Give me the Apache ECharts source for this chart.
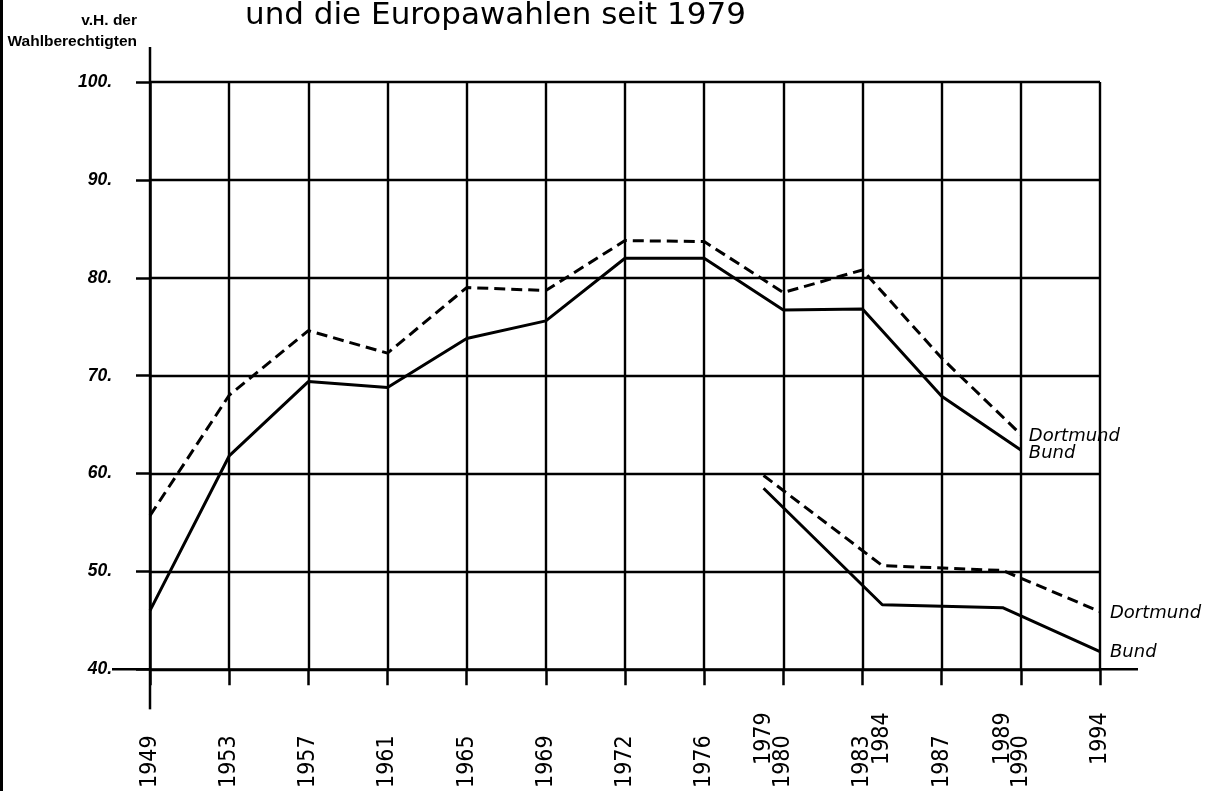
<!DOCTYPE html>
<html>
<head>
<meta charset="utf-8">
<script src="https://cdn.jsdelivr.net/npm/echarts@6/dist/echarts.min.js"></script>
<style>
html,body{margin:0;padding:0;background:#fff}
#chart{width:1211px;height:791px}
</style>
</head>
<body>
<div id="chart"></div>
<script>
// Bundestagswahlen (one slot per vertical grid line)
const bundestagYears = ['1949','1953','1957','1961','1965','1969','1972','1976','1980','1983','1987','1990'];
const bundestagBund = [46.0, 61.8, 69.4, 68.8, 73.8, 75.6, 82.0, 82.0, 76.7, 76.8, 67.9, 62.4];
const bundestagDortmund = [55.7, 68.0, 74.6, 72.3, 79.0, 78.7, 83.8, 83.7, 78.5, 80.8, 71.8, 64.0];
// Europawahlen (slot position on the shared year axis, as drawn)
const europaYears = ['1979','1984','1989','1994'];
const europaSlot = [7.75, 9.25, 10.77, 12];
const europaBund = [58.5, 46.6, 46.3, 41.8];
const europaDortmund = [59.8, 50.6, 50.1, 45.9];
// value axis ticks
const yMin = 40, yMax = 100, yStep = 10;

const black = '#000';
const yearFont = "'DejaVu Sans Condensed', 'Liberation Sans Narrow', sans-serif";

const chart = echarts.init(document.getElementById('chart'), null, {renderer: 'canvas'});

function endLabel(text, dist, off) {
  return {
    show: true, formatter: text, distance: dist, offset: off,
    fontStyle: 'italic', fontSize: 18, fontFamily: 'DejaVu Sans', color: black
  };
}

const option = {
  animation: false,
  backgroundColor: '#fff',
  title: {
    text: 'und die Europawahlen seit 1979',
    left: 245, top: 0, padding: 0,
    textStyle: {fontFamily: 'DejaVu Sans', fontSize: 31, fontWeight: 'normal', color: black}
  },
  grid: {left: 150, right: 111, top: 82, bottom: 121, containLabel: false},
  xAxis: [
    {
      type: 'value', min: 0, max: 12, interval: 1,
      axisLine: {show: true, onZero: false, lineStyle: {color: black, width: 2.5}},
      axisTick: {show: true, inside: false, length: 16, lineStyle: {color: black, width: 2.5}},
      splitLine: {show: true, lineStyle: {color: black, width: 2.4}},
      axisLabel: {
        rotate: 90, margin: 66, fontFamily: yearFont, fontSize: 23, color: black,
        formatter: v => bundestagYears[Math.round(v)] || ''
      }
    },
    {
      type: 'value', min: 0, max: 12, position: 'bottom',
      axisLine: {show: false, onZero: false},
      axisTick: {show: false},
      splitLine: {show: false},
      axisLabel: {
        customValues: europaSlot,
        rotate: 90, margin: 43, fontFamily: yearFont, fontSize: 23, color: black,
        formatter: v => {
          const i = europaSlot.indexOf(v);
          return i >= 0 ? europaYears[i] : '';
        }
      }
    }
  ],
  yAxis: {
    type: 'value', min: yMin, max: yMax, interval: yStep,
    name: 'v.H. der\nWahlberechtigten',
    nameLocation: 'end', nameGap: 30,
    nameTextStyle: {
      align: 'right', verticalAlign: 'bottom', padding: [0, 13, 0, 0],
      fontFamily: 'Liberation Sans', fontWeight: 'bold', fontSize: 15.5, lineHeight: 21, color: black
    },
    axisLine: {show: true, lineStyle: {color: black, width: 2.5}},
    axisTick: {show: true, inside: false, length: 14, lineStyle: {color: black, width: 2.5}},
    splitLine: {show: true, lineStyle: {color: black, width: 2.4}},
    axisLabel: {
      margin: 38, formatter: v => v + '.',
      fontFamily: 'Liberation Sans', fontStyle: 'italic', fontWeight: 'bold', fontSize: 17.5, color: black
    }
  },
  series: [
    {
      type: 'line', name: 'Bundestagswahl Dortmund', xAxisIndex: 0,
      data: bundestagDortmund.map((v, i) => [i, v]),
      symbol: 'none', lineStyle: {color: black, width: 3, type: [11, 6]},
      endLabel: endLabel('Dortmund', 8, [0, 2])
    },
    {
      type: 'line', name: 'Bundestagswahl Bund', xAxisIndex: 0,
      data: bundestagBund.map((v, i) => [i, v]),
      symbol: 'none', lineStyle: {color: black, width: 3},
      endLabel: endLabel('Bund', 8, [0, 3])
    },
    {
      type: 'line', name: 'Europawahl Dortmund', xAxisIndex: 0,
      data: europaDortmund.map((v, i) => [europaSlot[i], v]),
      symbol: 'none', lineStyle: {color: black, width: 3, type: [11, 6]},
      endLabel: endLabel('Dortmund', 10, [0, 2])
    },
    {
      type: 'line', name: 'Europawahl Bund', xAxisIndex: 0,
      data: europaBund.map((v, i) => [europaSlot[i], v]),
      symbol: 'none', lineStyle: {color: black, width: 3},
      endLabel: endLabel('Bund', 10, [0, 1])
    }
  ]
};

chart.setOption(option);

// axis line extensions as in the original drawing
const origin = chart.convertToPixel({gridIndex: 0}, [0, yMin]);
const topPt = chart.convertToPixel({gridIndex: 0}, [0, yMax]);
const rightPt = chart.convertToPixel({gridIndex: 0}, [12, yMin]);
const st = {stroke: black, lineWidth: 2.5};
chart.setOption({
  graphic: [
    {type: 'rect', shape: {x: 0, y: 0, width: 3, height: 791}, style: {fill: black}},
    {type: 'line', shape: {x1: origin[0], y1: topPt[1] - 35, x2: origin[0], y2: topPt[1]}, style: st},
    {type: 'line', shape: {x1: origin[0], y1: origin[1], x2: origin[0], y2: origin[1] + 40}, style: st},
    {type: 'line', shape: {x1: origin[0] - 38, y1: origin[1], x2: origin[0], y2: origin[1]}, style: st},
    {type: 'line', shape: {x1: rightPt[0], y1: rightPt[1], x2: rightPt[0] + 38, y2: rightPt[1]}, style: st}
  ]
});
</script>
</body>
</html>
